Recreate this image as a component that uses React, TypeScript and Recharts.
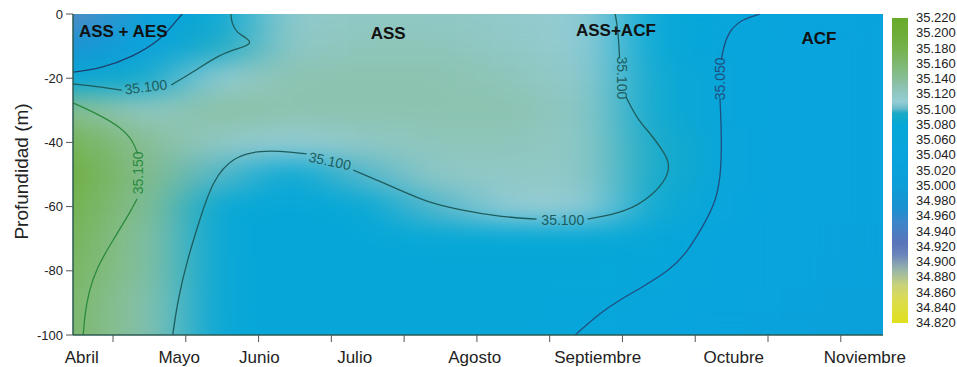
import React from 'react';
import { ComposedChart, XAxis, YAxis, Line, Scatter } from 'recharts';

// eje x en quincenas desde el inicio de abril
const X_MAX = 11.13;
const PLOT_W = 810;
const PLOT_H = 321;

const AXIS_TICKS = [0.55, 1.55, 2.55, 3.55, 4.55, 5.55, 6.55, 7.55, 8.55, 9.55, 10.55];
const MONTHS = ['Abril', 'Mayo', 'Junio', 'Julio', 'Agosto', 'Septiembre', 'Octubre', 'Noviembre'];
const MONTH_POS = [0.12, 1.46, 2.56, 3.87, 5.52, 7.21, 9.08, 10.88];
const DEPTH_TICKS = [0, -20, -40, -60, -80, -100];

// salinidad: filas = profundidad, columnas = quincena
const GRID_U = [0, 1, 2, 3, 4, 5, 6, 7, 8, 9, 10, 11];
const GRID_D = [0, -10, -20, -30, -40, -50, -60, -70, -80, -90, -100];
const SALINITY = [
  [34.91, 35.02, 35.08, 35.115, 35.12, 35.12, 35.115, 35.11, 35.08, 35.055, 35.035, 35.03],
  [34.97, 35.04, 35.095, 35.12, 35.125, 35.125, 35.12, 35.11, 35.08, 35.05, 35.035, 35.03],
  [35.07, 35.09, 35.11, 35.13, 35.13, 35.13, 35.125, 35.115, 35.085, 35.05, 35.035, 35.03],
  [35.15, 35.12, 35.135, 35.13, 35.13, 35.13, 35.13, 35.12, 35.085, 35.048, 35.035, 35.03],
  [35.18, 35.14, 35.12, 35.11, 35.12, 35.125, 35.125, 35.12, 35.092, 35.048, 35.035, 35.03],
  [35.2, 35.145, 35.1, 35.08, 35.1, 35.12, 35.12, 35.12, 35.092, 35.048, 35.035, 35.03],
  [35.19, 35.14, 35.08, 35.07, 35.08, 35.1, 35.11, 35.11, 35.085, 35.045, 35.035, 35.03],
  [35.18, 35.135, 35.07, 35.07, 35.07, 35.08, 35.08, 35.08, 35.07, 35.04, 35.035, 35.025],
  [35.175, 35.135, 35.07, 35.065, 35.065, 35.07, 35.07, 35.07, 35.06, 35.04, 35.03, 35.02],
  [35.17, 35.13, 35.07, 35.065, 35.065, 35.065, 35.065, 35.06, 35.05, 35.04, 35.025, 35.015],
  [35.17, 35.13, 35.07, 35.065, 35.065, 35.065, 35.065, 35.055, 35.045, 35.035, 35.02, 35.01],
];

// isolineas (u = quincena, d = profundidad)
const ISO_A = [
  { u: 0, d: -18.1 }, { u: 0.37, d: -17.1 }, { u: 0.82, d: -13.4 },
  { u: 1.2, d: -8.1 }, { u: 1.37, d: -3.4 }, { u: 1.5, d: 0 },
];
const ISO_B1 = [{ u: 0, d: -21.8 }, { u: 0.37, d: -22.7 }, { u: 0.67, d: -23.7 }];
const ISO_B2 = [
  { u: 1.35, d: -22.1 }, { u: 1.65, d: -18.1 }, { u: 2.02, d: -12.5 }, { u: 2.29, d: -10.6 },
  { u: 2.46, d: -9.3 }, { u: 2.39, d: -7.5 }, { u: 2.25, d: -5.9 }, { u: 2.18, d: -2.8 }, { u: 2.17, d: 0 },
];
const ISO_C1 = [
  { u: 0, d: -27.7 }, { u: 0.37, d: -31.5 }, { u: 0.65, d: -35.2 }, { u: 0.82, d: -39.3 }, { u: 0.89, d: -43.6 },
];
const ISO_C2 = [
  { u: 0.88, d: -57.6 }, { u: 0.78, d: -62.0 }, { u: 0.55, d: -70.4 }, { u: 0.33, d: -78.8 },
  { u: 0.21, d: -86.9 }, { u: 0.16, d: -94.4 }, { u: 0.14, d: -100 },
];
const ISO_D1 = [
  { u: 1.37, d: -100 }, { u: 1.44, d: -89.1 }, { u: 1.57, d: -76.6 }, { u: 1.74, d: -64.2 },
  { u: 1.92, d: -51.7 }, { u: 2.2, d: -44.5 }, { u: 2.57, d: -42.4 }, { u: 3.02, d: -43.0 }, { u: 3.21, d: -43.6 },
];
const ISO_D2 = [
  { u: 3.85, d: -48.6 }, { u: 4.49, d: -54.8 }, { u: 4.86, d: -58.6 }, { u: 5.32, d: -61.1 },
  { u: 5.87, d: -63.2 }, { u: 6.37, d: -63.9 },
];
const ISO_D3 = [
  { u: 7.07, d: -63.9 }, { u: 7.61, d: -61.7 }, { u: 7.97, d: -56.4 }, { u: 8.17, d: -50.8 },
  { u: 8.2, d: -46.4 }, { u: 8.1, d: -42.4 }, { u: 7.93, d: -37.1 }, { u: 7.76, d: -33.0 }, { u: 7.6, d: -25.9 },
];
const ISO_D4 = [{ u: 7.51, d: -13.7 }, { u: 7.49, d: -5.0 }, { u: 7.45, d: 0 }];
const ISO_E1 = [
  { u: 9.44, d: 0 }, { u: 9.16, d: -1.9 }, { u: 9.0, d: -5.9 }, { u: 8.93, d: -11.2 }, { u: 8.91, d: -14.3 },
];
const ISO_E2 = [
  { u: 8.89, d: -26.2 }, { u: 8.91, d: -37.1 }, { u: 8.91, d: -47.7 }, { u: 8.85, d: -57.9 },
  { u: 8.65, d: -66.4 }, { u: 8.43, d: -74.5 }, { u: 8.2, d: -79.8 }, { u: 7.83, d: -85.0 },
  { u: 7.51, d: -89.1 }, { u: 7.24, d: -93.1 }, { u: 6.9, d: -100 },
];

const ISO_LABELS = [
  { u: 1.0, d: -22.7, text: '35.100', angle: -7 },
  { u: 0.89, d: -49.5, text: '35.150', angle: -90 },
  { u: 3.53, d: -45.8, text: '35.100', angle: 12 },
  { u: 6.73, d: -64.2, text: '35.100', angle: 0 },
  { u: 7.55, d: -19.9, text: '35.100', angle: 90 },
  { u: 8.89, d: -20.2, text: '35.050', angle: -90 },
];

const WATER_MASSES = [
  { u: 0.69, d: -5.3, text: 'ASS + AES' },
  { u: 4.33, d: -6.2, text: 'ASS' },
  { u: 7.46, d: -5.0, text: 'ASS+ACF' },
  { u: 10.25, d: -7.5, text: 'ACF' },
];

const SCALE_TICKS = [
  '35.220', '35.200', '35.180', '35.160', '35.140', '35.120', '35.100', '35.080', '35.060', '35.040', '35.020',
  '35.000', '34.980', '34.960', '34.940', '34.920', '34.900', '34.880', '34.860', '34.840', '34.820',
];

const SAL_STOPS: [number, string][] = [
  [34.82, '#e0e01c'], [34.85, '#dcdc50'], [34.87, '#c8d27a'], [34.89, '#98b4a8'], [34.91, '#6a84bc'],
  [34.925, '#5a74b8'], [34.95, '#3f84c8'], [34.97, '#1c90d0'], [35.0, '#0c9ed8'], [35.04, '#08a4de'],
  [35.08, '#06a8d6'], [35.095, '#1aaac6'], [35.102, '#6cbccc'], [35.11, '#94ccd4'], [35.12, '#90c8c6'],
  [35.13, '#8cc3b0'], [35.14, '#88be98'], [35.16, '#7eb870'], [35.18, '#74b24c'], [35.2, '#6cae36'],
  [35.22, '#68aa2a'],
];
const S_MIN = 34.82;
const S_MAX = 35.22;

const hexRgb = (h: string) => [1, 3, 5].map((i) => parseInt(h.slice(i, i + 2), 16));

function salColor(v: number) {
  const s = Math.min(S_MAX, Math.max(S_MIN, v));
  for (let i = 0; i < SAL_STOPS.length - 1; i++) {
    const [v0, c0] = SAL_STOPS[i];
    const [v1, c1] = SAL_STOPS[i + 1];
    if (s <= v1) {
      const t = (s - v0) / (v1 - v0);
      const a = hexRgb(c0);
      const b = hexRgb(c1);
      const rgb = a.map((x, k) => Math.round(x + (b[k] - x) * t));
      return `rgb(${rgb.join(',')})`;
    }
  }
  return SAL_STOPS[SAL_STOPS.length - 1][1];
}

const cells = GRID_D.flatMap((d, r) => GRID_U.map((u, c) => ({ u, d, s: SALINITY[r][c] })));

const HeatCell = (p: any) => {
  const { cx, cy, payload } = p;
  const kx = PLOT_W / X_MAX;
  const ky = PLOT_H / 100;
  const u0 = Math.max(0, payload.u - 0.5);
  const u1 = Math.min(X_MAX, payload.u + 0.5);
  const d0 = Math.min(0, payload.d + 5);
  const d1 = Math.max(-100, payload.d - 5);
  return (
    <rect
      x={cx - (payload.u - u0) * kx}
      y={cy - (d0 - payload.d) * ky}
      width={(u1 - u0) * kx + 0.6}
      height={(d0 - d1) * ky + 0.6}
      fill={salColor(payload.s)}
    />
  );
};

const IsoLabel = (p: any) => {
  const { cx, cy, payload } = p;
  const fill = payload.text === '35.150' ? '#2b8a3e' : payload.text === '35.050' ? '#1f4f7f' : '#1e5d5e';
  return (
    <text
      x={cx}
      y={cy}
      textAnchor="middle"
      dominantBaseline="central"
      fontSize={14}
      fill={fill}
      transform={`rotate(${payload.angle}, ${cx}, ${cy})`}
    >
      {payload.text}
    </text>
  );
};

const MassLabel = (p: any) => (
  <text x={p.cx} y={p.cy} textAnchor="middle" dominantBaseline="central" fontSize={17} fontWeight="bold" fill="#111">
    {p.payload.text}
  </text>
);

const BottomTick = (props: any) => {
  const { x, y, payload } = props;
  const i = MONTH_POS.indexOf(payload.value);
  if (i >= 0) {
    return (
      <text x={x} y={y + 28} textAnchor="middle" fontSize={17} fill="#222">
        {MONTHS[i]}
      </text>
    );
  }
  return <line x1={x} x2={x} y1={y} y2={y + 7} stroke="#555" />;
};

const AXIS_COLOR = '#2c5a52';

const isoSeries: { data: { u: number; d: number }[]; color: string }[] = [
  { data: ISO_A, color: '#1d3f6e' },
  { data: ISO_B1, color: '#1e5d5e' },
  { data: ISO_B2, color: '#1e5d5e' },
  { data: ISO_C1, color: '#2b8a3e' },
  { data: ISO_C2, color: '#2b8a3e' },
  { data: ISO_D1, color: '#1e5d5e' },
  { data: ISO_D2, color: '#1e5d5e' },
  { data: ISO_D3, color: '#1e5d5e' },
  { data: ISO_D4, color: '#1e5d5e' },
  { data: ISO_E1, color: '#1f4f7f' },
  { data: ISO_E2, color: '#1f4f7f' },
];

export default function App() {
  const barTop = 18;
  const barH = 305;
  const gradient = SAL_STOPS.map(([v, c]) => `${c} ${(((v - S_MIN) / (S_MAX - S_MIN)) * 100).toFixed(2)}%`).join(', ');

  return (
    <div
      style={{
        position: 'absolute',
        left: 0,
        top: 0,
        width: 957,
        height: 367,
        background: '#fff',
        fontFamily: '"Liberation Sans", Arial, sans-serif',
      }}
    >
      <style>{'.heat-layer { filter: url(#heatBlur); }'}</style>
      <svg width={0} height={0} style={{ position: 'absolute' }}>
        <defs>
          <filter id="heatBlur" x="0" y="0" width="1" height="1" colorInterpolationFilters="sRGB">
            <feGaussianBlur stdDeviation="30 12" />
            <feComponentTransfer>
              <feFuncA type="table" tableValues="0 1 1 1 1" />
            </feComponentTransfer>
          </filter>
        </defs>
      </svg>
      <ComposedChart width={957} height={367} margin={{ top: 14, right: 74, bottom: 0, left: 0 }}>
        <Scatter
          data={cells}
          shape={(p: any) => <HeatCell {...p} />}
          className="heat-layer"
          isAnimationActive={false}
          legendType="none"
          {...({ zIndex: 50 } as any)}
        />
        {isoSeries.map((s, i) => (
          <Line
            key={i}
            data={s.data}
            dataKey="d"
            type="basis"
            stroke={s.color}
            strokeWidth={1.3}
            dot={false}
            activeDot={false}
            isAnimationActive={false}
            legendType="none"
          />
        ))}
        <Scatter data={ISO_LABELS} shape={(p: any) => <IsoLabel {...p} />} isAnimationActive={false} legendType="none" />
        <Scatter data={WATER_MASSES} shape={(p: any) => <MassLabel {...p} />} isAnimationActive={false} legendType="none" />

        <XAxis
          dataKey="u"
          type="number"
          domain={[0, X_MAX]}
          allowDataOverflow
          ticks={[...AXIS_TICKS, ...MONTH_POS].sort((a, b) => a - b)}
          interval={0}
          height={32}
          tickSize={0}
          tickMargin={0}
          tickLine={false}
          tick={(p: any) => <BottomTick {...p} />}
          axisLine={{ stroke: AXIS_COLOR, strokeWidth: 1.5 }}
        />
        <XAxis
          xAxisId="top"
          orientation="top"
          type="number"
          domain={[0, X_MAX]}
          allowDataOverflow
          ticks={AXIS_TICKS}
          interval={0}
          height={0}
          tickSize={7}
          tick={false}
          tickLine={{ stroke: '#555' }}
          axisLine={{ stroke: AXIS_COLOR, strokeWidth: 1.5 }}
        />
        <YAxis
          dataKey="d"
          type="number"
          domain={[-100, 0]}
          allowDataOverflow
          ticks={DEPTH_TICKS}
          interval={0}
          width={73}
          tickSize={7}
          tickMargin={3}
          tick={{ fill: '#222', fontSize: 13 }}
          tickLine={{ stroke: '#555' }}
          axisLine={{ stroke: AXIS_COLOR, strokeWidth: 1.5 }}
          label={{
            content: (p: any) => {
              const vb = p.viewBox || { x: 0, y: 14, width: 73, height: 321 };
              const cx = vb.x + 21;
              const cy = vb.y + vb.height / 2 - 3;
              return (
                <text x={cx} y={cy} textAnchor="middle" dominantBaseline="central" fontSize={19} fill="#222" transform={`rotate(-90, ${cx}, ${cy})`}>
                  Profundidad (m)
                </text>
              );
            },
          }}
        />
        <YAxis
          yAxisId="right"
          orientation="right"
          type="number"
          domain={[-100, 0]}
          allowDataOverflow
          ticks={DEPTH_TICKS}
          interval={0}
          width={0}
          tickSize={6}
          tick={false}
          tickLine={{ stroke: '#555' }}
          axisLine={{ stroke: AXIS_COLOR, strokeWidth: 1.5 }}
        />
      </ComposedChart>

      <div
        style={{
          position: 'absolute',
          left: 892,
          top: barTop,
          width: 16,
          height: barH,
          background: `linear-gradient(to top, ${gradient})`,
        }}
      />
      {SCALE_TICKS.map((t) => {
        const v = parseFloat(t);
        const y = barTop + ((S_MAX - v) / (S_MAX - S_MIN)) * barH;
        return (
          <div
            key={t}
            style={{
              position: 'absolute',
              left: 916,
              top: y - 8,
              height: 16,
              lineHeight: '16px',
              fontSize: 13,
              color: '#222',
              whiteSpace: 'nowrap',
            }}
          >
            {t}
          </div>
        );
      })}
    </div>
  );
}
